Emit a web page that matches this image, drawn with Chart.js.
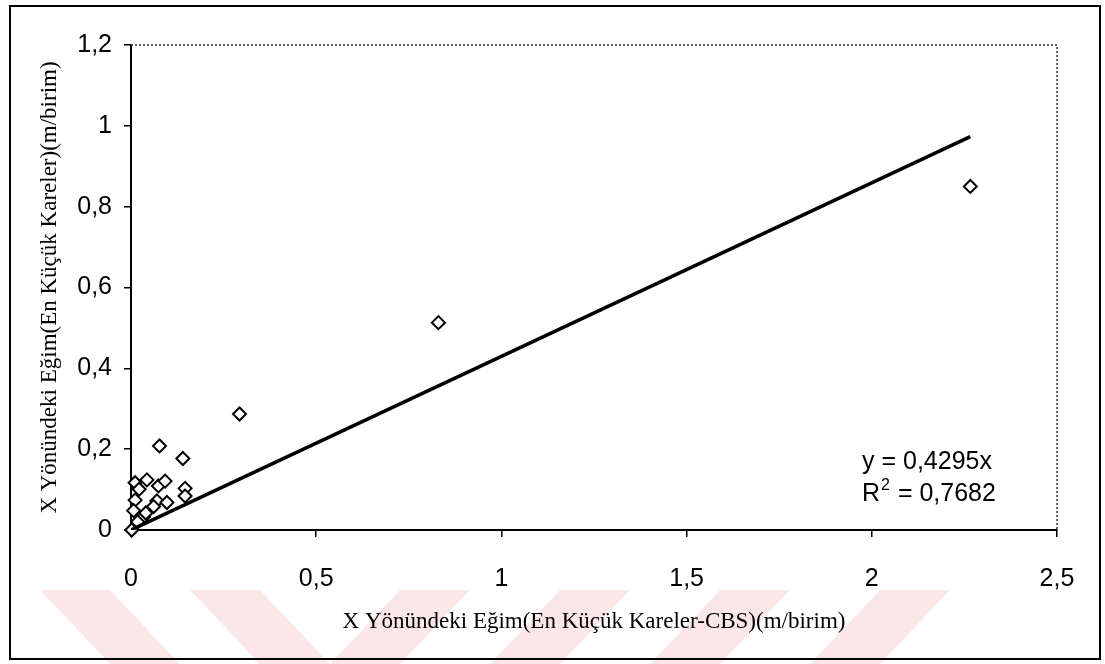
<!DOCTYPE html>
<html>
<head>
<meta charset="utf-8">
<script src="https://cdn.jsdelivr.net/npm/chart.js@4.4.1/dist/chart.umd.min.js"></script>
<style>
  html, body { margin: 0; padding: 0; background: #fff; }
  canvas { display: block; }
</style>
</head>
<body>
<canvas id="chart" width="1105" height="664"></canvas>
<script>
// values
const xVals = [2.266, 0.830, 0.293, 0.077, 0.140, 0.011, 0.043, 0.022, 0.074, 0.092, 0.146,
               0.146, 0.011, 0.070, 0.097, 0.061, 0.007, 0.034, 0.040, 0.018, 0.002];
const yVals = [0.850, 0.513, 0.287, 0.208, 0.177, 0.117, 0.124, 0.101, 0.109, 0.121, 0.103,
               0.084, 0.074, 0.072, 0.068, 0.058, 0.048, 0.033, 0.042, 0.020, 0.000];
const slope = 0.4295;
const r2Text = '0,7682';
const xTicks = [0, 0.5, 1, 1.5, 2, 2.5];
const xTickLabels = ['0', '0,5', '1', '1,5', '2', '2,5'];
const yTicks = [0, 0.2, 0.4, 0.6, 0.8, 1, 1.2];
const yTickLabels = ['0', '0,2', '0,4', '0,6', '0,8', '1', '1,2'];
const xTitle = 'X Yönündeki Eğim(En Küçük Kareler-CBS)(m/birim)';
const yTitle = 'X Yönündeki Eğim(En Küçük Kareler)(m/birim)';

const points = xVals.map((x, i) => ({ x: x, y: yVals[i] }));
const maxX = Math.max(...xVals);
const trend = [{ x: 0, y: 0 }, { x: maxX, y: slope * maxX }];

// outer frame, watermark stripes, dotted plot border, equation text
const decor = {
  id: 'decor',
  beforeDraw(chart) {
    const c = chart.ctx;
    c.save();
    c.fillStyle = '#fff';
    c.fillRect(0, 0, chart.width, chart.height);
    // faint watermark stripes at the bottom (top-left, top-right, bottom-right, bottom-left)
    c.fillStyle = 'rgba(232,120,120,0.18)';
    const stripes = [
      [40, 110, 180, 110], [190, 260, 330, 260],
      [400, 470, 400, 330], [560, 630, 560, 490],
      [720, 790, 720, 650], [880, 950, 880, 810]
    ];
    stripes.forEach(s => {
      c.beginPath();
      c.moveTo(s[0], 590); c.lineTo(s[1], 590);
      c.lineTo(s[2], 664); c.lineTo(s[3], 664);
      c.closePath(); c.fill();
    });
    c.restore();
  },
  afterDatasetsDraw(chart) {
    const c = chart.ctx;
    const a = chart.chartArea;
    c.save();
    c.strokeStyle = '#333';
    c.lineWidth = 1.5;
    c.setLineDash([2, 2]);
    c.beginPath();
    c.moveTo(a.left, a.top); c.lineTo(a.right, a.top); c.lineTo(a.right, a.bottom);
    c.stroke();
    c.setLineDash([]);
    c.lineWidth = 2;
    c.strokeStyle = '#000';
    c.strokeRect(10, 6, 1090, 653);
    // trendline label
    c.fillStyle = '#000';
    c.font = '25px "Liberation Sans", Arial, sans-serif';
    c.textBaseline = 'middle';
    c.textAlign = 'left';
    c.fillText('y = ' + String(slope).replace('.', ',') + 'x', 862, 462);
    c.fillText('R', 862, 494);
    const rw = c.measureText('R').width;
    c.font = '16px "Liberation Sans", Arial, sans-serif';
    c.fillText('2', 862 + rw + 1, 486);
    const sw = c.measureText('2').width;
    c.font = '25px "Liberation Sans", Arial, sans-serif';
    c.fillText(' = ' + r2Text, 862 + rw + sw + 2, 494);
    c.restore();
  }
};

const tickFont = { family: '"Liberation Sans", Arial, sans-serif', size: 25 };
const titleFont = { family: '"Liberation Serif", "Times New Roman", serif', size: 23 };

new Chart(document.getElementById('chart'), {
  data: {
    datasets: [
      {
        type: 'line',
        data: trend,
        borderColor: '#000',
        borderWidth: 3.5,
        pointRadius: 0,
        order: 0
      },
      {
        type: 'scatter',
        data: points,
        pointStyle: 'rectRot',
        pointRadius: 6.5,
        pointBorderWidth: 2,
        pointBorderColor: '#000',
        pointBackgroundColor: '#fff',
        clip: false,
        order: 1
      }
    ]
  },
  options: {
    responsive: false,
    animation: false,
    devicePixelRatio: 1,
    layout: { padding: { left: 12, top: 45, right: 48, bottom: 12 } },
    plugins: { legend: { display: false }, tooltip: { enabled: false } },
    scales: {
      x: {
        type: 'linear',
        min: 0, max: 2.5,
        afterBuildTicks: s => { s.ticks = xTicks.map(v => ({ value: v })); },
        afterFit: s => { s.height = 122; },
        grid: { display: true, drawOnChartArea: false, drawTicks: true, tickLength: 7, color: '#000', lineWidth: 1.5 },
        border: { display: true, color: '#000', width: 2 },
        ticks: {
          color: '#000', font: tickFont, padding: 27, maxRotation: 0,
          callback: (v, i) => xTickLabels[i]
        },
        title: { display: true, text: xTitle, color: '#000', font: titleFont, padding: { top: 0, bottom: 16 } }
      },
      y: {
        type: 'linear',
        min: 0, max: 1.2,
        afterBuildTicks: s => { s.ticks = yTicks.map(v => ({ value: v })); },
        afterFit: s => { s.width = 119; },
        grid: { display: true, drawOnChartArea: false, drawTicks: true, tickLength: 7, color: '#000', lineWidth: 1.5 },
        border: { display: true, color: '#000', width: 2 },
        ticks: {
          color: '#000', font: tickFont, padding: 12,
          callback: (v, i) => yTickLabels[i]
        },
        title: { display: true, text: yTitle, color: '#000', font: titleFont, padding: { top: 24, bottom: 0 } }
      }
    }
  },
  plugins: [decor]
});
</script>
</body>
</html>
